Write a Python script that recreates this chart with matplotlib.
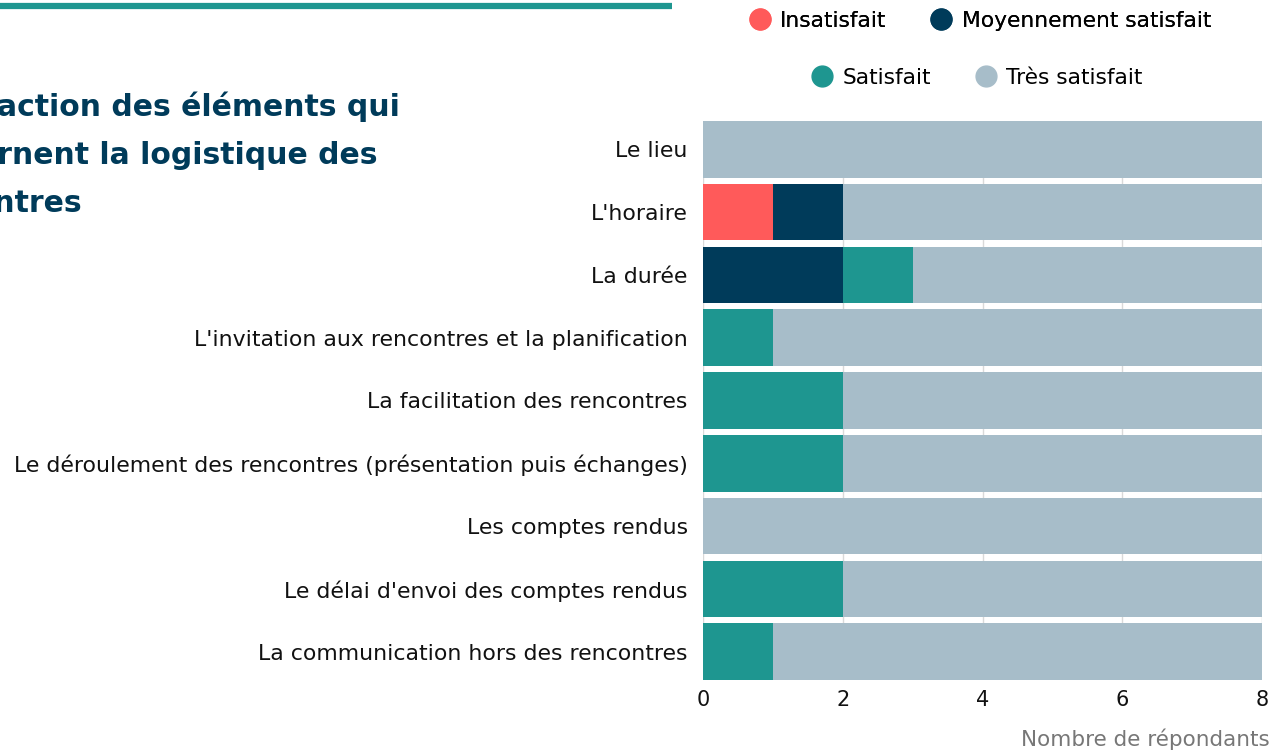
import matplotlib
matplotlib.use("Agg")
import matplotlib.pyplot as plt
from matplotlib.lines import Line2D
import numpy as np

plt.rcParams['font.family'] = ['DejaVu Sans']

categories = [
    "Le lieu",
    "L'horaire",
    "La durée",
    "L'invitation aux rencontres et la planification",
    "La facilitation des rencontres",
    "Le déroulement des rencontres (présentation puis échanges)",
    "Les comptes rendus",
    "Le délai d'envoi des comptes rendus",
    "La communication hors des rencontres",
]
insatisfait = [0, 1, 0, 0, 0, 0, 0, 0, 0]
moyennement = [0, 1, 2, 0, 0, 0, 0, 0, 0]
satisfait = [0, 0, 1, 1, 2, 2, 0, 2, 1]
tres_satisfait = [8, 6, 5, 7, 6, 6, 8, 6, 7]

series_names = ["Insatisfait", "Moyennement satisfait", "Satisfait", "Très satisfait"]
colors = ["#ff5a5a", "#003b5a", "#1e9690", "#a7bdc9"]
x_ticks = [0, 2, 4, 6, 8]

W, H = 1285, 751
fig = plt.figure(figsize=(W / 100, H / 100), dpi=100)
ax = fig.add_axes([703 / W, 1 - 680 / H, (1262 - 703) / W, (680 - 121) / H])

y = np.arange(len(categories))
left = np.zeros(len(categories))
for name, vals, col in zip(series_names, [insatisfait, moyennement, satisfait, tres_satisfait], colors):
    vals = np.array(vals, dtype=float)
    ax.barh(y, vals, left=left, height=0.9, color=col, label=name, zorder=2)
    left += vals

ax.set_ylim(len(categories) - 0.55, -0.45)
ax.set_xlim(0, 8)
ax.set_yticks(y)
ax.set_yticklabels(categories, fontsize=15.8, color="#111111")
ax.set_xticks(x_ticks)
ax.set_xticklabels([str(t) for t in x_ticks], fontsize=15, color="#111111")
ax.tick_params(axis='both', length=0)
ax.tick_params(axis='y', pad=11)
ax.tick_params(axis='x', pad=7)
for s in ax.spines.values():
    s.set_visible(False)
ax.grid(axis='x', color="#d9d9d9", linewidth=1, zorder=0)
ax.set_axisbelow(True)

fig.text(1270 / W, 1 - 739 / H, "Nombre de répondants", ha='right', va='center',
         fontsize=15.5, color="#777777")

# titre (coupé à gauche comme dans l'original)
title_lines = ["Satisfaction des éléments qui", "concernent la logistique des", "rencontres"]
renderer = fig.canvas.get_renderer()
probe = fig.text(0, 0, "Satisf", fontsize=21.5, fontweight='bold')
cut = probe.get_window_extent(renderer).width + 3
probe.remove()
for i, line in enumerate(title_lines):
    fig.text(-cut / W, 1 - (107 + 48 * i) / H, line, ha='left', va='center',
             fontsize=21.5, fontweight='bold', color="#003b5a")

fig.add_artist(Line2D([0, 672 / W], [1 - 6 / H, 1 - 6 / H], color="#1e9690", linewidth=4.5,
                      transform=fig.transFigure, solid_capstyle='butt'))

# légende en deux lignes
handles = [Line2D([], [], marker='o', linestyle='none', markersize=15, markerfacecolor=c,
                  markeredgecolor=c) for c in colors]
leg_kw = dict(loc='center', ncol=2, frameon=False, fontsize=15.7, handletextpad=0.45,
              columnspacing=2.0, handlelength=1.0)
leg1 = fig.legend(handles[:2], series_names[:2], bbox_to_anchor=(980 / W, 1 - 21 / H), **leg_kw)
fig.add_artist(leg1)
fig.legend(handles[2:], series_names[2:], bbox_to_anchor=(977 / W, 1 - 78 / H), **leg_kw)

fig.savefig("out.png", dpi=100)
